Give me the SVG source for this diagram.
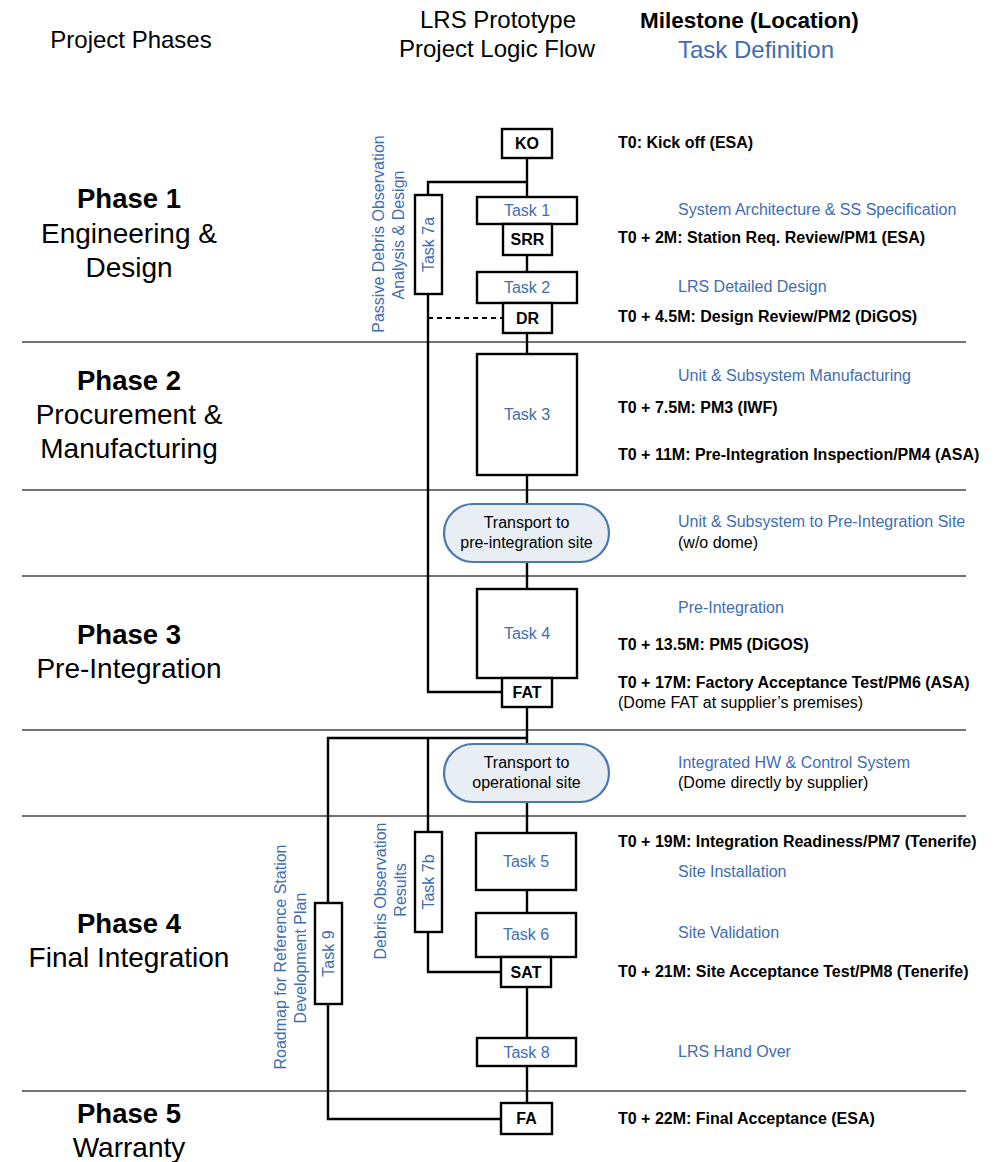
<svg xmlns="http://www.w3.org/2000/svg" width="1005" height="1162" viewBox="0 0 1005 1162">
<style>
  text { font-family: "Liberation Sans", Arial, sans-serif; }
  .hdr { font-size: 24px; fill: #000; }
  .hdrb { font-size: 22.5px; font-weight: bold; fill: #000; }
  .hdrblue { font-size: 24px; fill: #3F6DB3; }
  .ph { font-size: 28px; fill: #000; text-anchor: middle; }
  .phb { font-size: 27.5px; font-weight: bold; fill: #000; text-anchor: middle; }
  .ms { font-size: 16px; font-weight: bold; fill: #000; }
  .td { font-size: 16px; fill: #3F6DB3; }
  .note { font-size: 16px; fill: #000; }
  .box { fill: #fff; stroke: #000; stroke-width: 2.4; }
  .pill { fill: #E9EEF5; stroke: #4A78B2; stroke-width: 2.2; }
  .tl { font-size: 16px; fill: #3F6DB3; text-anchor: middle; dominant-baseline: central; }
  .ml { font-size: 16px; font-weight: bold; fill: #000; text-anchor: middle; dominant-baseline: central; }
  .pl { font-size: 16px; fill: #000; text-anchor: middle; }
  .vt { font-size: 16px; fill: #3F6DB3; text-anchor: middle; dominant-baseline: central; }
  .sep { stroke: #444; stroke-width: 1.4; }
  .con { fill: none; stroke: #000; stroke-width: 2.4; }
  .dash { fill: none; stroke: #000; stroke-width: 2; stroke-dasharray: 5 4; }
</style>

<!-- Headers -->
<g id="headers">
  <text class="hdr" x="131" y="48" text-anchor="middle">Project Phases</text>
  <text class="hdr" x="498" y="28" text-anchor="middle">LRS Prototype</text>
  <text class="hdr" x="497" y="57" text-anchor="middle">Project Logic Flow</text>
  <text class="hdrb" x="640" y="28">Milestone (Location)</text>
  <text class="hdrblue" x="756" y="58" text-anchor="middle">Task Definition</text>
</g>

<!-- Phase separators -->
<g id="separators">
  <line class="sep" x1="22" y1="342" x2="966" y2="342"/>
  <line class="sep" x1="22" y1="490" x2="966" y2="490"/>
  <line class="sep" x1="22" y1="576" x2="966" y2="576"/>
  <line class="sep" x1="22" y1="730" x2="966" y2="730"/>
  <line class="sep" x1="22" y1="816" x2="966" y2="816"/>
  <line class="sep" x1="22" y1="1091" x2="966" y2="1091"/>
</g>

<!-- Phase labels -->
<g id="phases">
  <text class="phb" x="129" y="208">Phase 1</text>
  <text class="ph" x="129" y="243">Engineering &amp;</text>
  <text class="ph" x="129" y="277">Design</text>
  <text class="phb" x="129" y="390">Phase 2</text>
  <text class="ph" x="129" y="424">Procurement &amp;</text>
  <text class="ph" x="129" y="458">Manufacturing</text>
  <text class="phb" x="129" y="644">Phase 3</text>
  <text class="ph" x="129" y="678">Pre-Integration</text>
  <text class="phb" x="129" y="933">Phase 4</text>
  <text class="ph" x="129" y="967">Final Integration</text>
  <text class="phb" x="129" y="1123">Phase 5</text>
  <text class="ph" x="129" y="1157">Warranty</text>
</g>

<!-- Connectors -->
<g id="connectors">
  <line class="con" x1="527" y1="158" x2="527" y2="197"/>
  <polyline class="con" points="527,182 428,182 428,195"/>
  <line class="con" x1="527" y1="255" x2="527" y2="272"/>
  <line class="con" x1="527" y1="333" x2="527" y2="354"/>
  <line class="con" x1="527" y1="475" x2="527" y2="504"/>
  <line class="con" x1="527" y1="562" x2="527" y2="589"/>
  <polyline class="con" points="428,294 428,692 502,692"/>
  <line class="dash" x1="428" y1="318" x2="503" y2="318"/>
  <line class="con" x1="527" y1="707" x2="527" y2="744"/>
  <polyline class="con" points="527,738 328,738 328,903"/>
  <line class="con" x1="428" y1="738" x2="428" y2="832"/>
  <line class="con" x1="527" y1="802" x2="527" y2="833"/>
  <line class="con" x1="527" y1="890" x2="527" y2="913"/>
  <line class="con" x1="527" y1="987" x2="527" y2="1038"/>
  <line class="con" x1="527" y1="1066" x2="527" y2="1103"/>
  <polyline class="con" points="428,932 428,972 501,972"/>
  <polyline class="con" points="328,1004 328,1119 501,1119"/>
</g>

<!-- Nodes -->
<g id="node-KO"><rect class="box" x="502" y="129" width="50" height="29"/><text class="ml" x="527" y="143.5">KO</text></g>
<g id="node-task1"><rect class="box" x="477" y="197" width="100" height="27"/><text class="tl" x="527" y="210.5">Task 1</text></g>
<g id="node-SRR"><rect class="box" x="503" y="224" width="49" height="31"/><text class="ml" x="527.5" y="239.5">SRR</text></g>
<g id="node-task2"><rect class="box" x="477" y="272" width="100" height="31"/><text class="tl" x="527" y="287.5">Task 2</text></g>
<g id="node-DR"><rect class="box" x="503" y="303" width="49" height="30"/><text class="ml" x="527.5" y="318">DR</text></g>
<g id="node-task3"><rect class="box" x="477" y="354" width="100" height="121"/><text class="tl" x="527" y="414">Task 3</text></g>
<g id="node-transport1"><rect class="pill" x="444" y="504" width="165" height="58" rx="29" ry="29"/><text class="pl" x="526.5" y="528">Transport to</text><text class="pl" x="526.5" y="548">pre-integration site</text></g>
<g id="node-task4"><rect class="box" x="477" y="589" width="100" height="89"/><text class="tl" x="527" y="633">Task 4</text></g>
<g id="node-FAT"><rect class="box" x="502" y="678" width="50" height="29"/><text class="ml" x="527" y="692.5">FAT</text></g>
<g id="node-transport2"><rect class="pill" x="444" y="744" width="165" height="58" rx="29" ry="29"/><text class="pl" x="526.5" y="768">Transport to</text><text class="pl" x="526.5" y="788">operational site</text></g>
<g id="node-task5"><rect class="box" x="476" y="833" width="100" height="57"/><text class="tl" x="526" y="861.5">Task 5</text></g>
<g id="node-task6"><rect class="box" x="476" y="913" width="100" height="44"/><text class="tl" x="526" y="934.5">Task 6</text></g>
<g id="node-SAT"><rect class="box" x="501" y="957" width="50" height="30"/><text class="ml" x="526" y="972">SAT</text></g>
<g id="node-task8"><rect class="box" x="477" y="1038" width="99" height="28"/><text class="tl" x="526.5" y="1052">Task 8</text></g>
<g id="node-FA"><rect class="box" x="501" y="1103" width="51" height="31"/><text class="ml" x="526.5" y="1118.5">FA</text></g>

<g id="node-task7a"><rect class="box" x="415" y="195" width="27" height="99"/><text class="vt" transform="translate(428.5,244.5) rotate(-90)">Task 7a</text></g>
<g id="node-task7b"><rect class="box" x="415" y="832" width="27" height="100"/><text class="vt" transform="translate(428.5,882) rotate(-90)">Task 7b</text></g>
<g id="node-task9"><rect class="box" x="315" y="903" width="27" height="101"/><text class="vt" transform="translate(328.5,953.5) rotate(-90)">Task 9</text></g>

<!-- Vertical side labels -->
<g id="side-labels">
  <text class="vt" transform="translate(378,234) rotate(-90)">Passive Debris Observation</text>
  <text class="vt" transform="translate(398,235) rotate(-90)">Analysis &amp; Design</text>
  <text class="vt" transform="translate(380,891) rotate(-90)">Debris Observation</text>
  <text class="vt" transform="translate(400,890) rotate(-90)">Results</text>
  <text class="vt" transform="translate(280,957) rotate(-90)">Roadmap for Reference Station</text>
  <text class="vt" transform="translate(300,958) rotate(-90)">Development Plan</text>
</g>

<!-- Milestones and task definitions -->
<g id="milestones">
  <text class="ms" x="618" y="148">T0: Kick off (ESA)</text>
  <text class="td" x="678" y="215">System Architecture &amp; SS Specification</text>
  <text class="ms" x="618" y="243">T0 + 2M: Station Req. Review/PM1 (ESA)</text>
  <text class="td" x="678" y="292">LRS Detailed Design</text>
  <text class="ms" x="618" y="322">T0 + 4.5M: Design Review/PM2 (DiGOS)</text>
  <text class="td" x="678" y="381">Unit &amp; Subsystem Manufacturing</text>
  <text class="ms" x="618" y="413">T0 + 7.5M: PM3 (IWF)</text>
  <text class="ms" x="618" y="460">T0 + 11M: Pre-Integration Inspection/PM4 (ASA)</text>
  <text class="td" x="678" y="527">Unit &amp; Subsystem to Pre-Integration Site</text>
  <text class="note" x="678" y="548">(w/o dome)</text>
  <text class="td" x="678" y="613">Pre-Integration</text>
  <text class="ms" x="618" y="650">T0 + 13.5M: PM5 (DiGOS)</text>
  <text class="ms" x="618" y="688">T0 + 17M: Factory Acceptance Test/PM6 (ASA)</text>
  <text class="note" x="618" y="708">(Dome FAT at supplier’s premises)</text>
  <text class="td" x="678" y="768">Integrated HW &amp; Control System</text>
  <text class="note" x="678" y="788">(Dome directly by supplier)</text>
  <text class="ms" x="618" y="847">T0 + 19M: Integration Readiness/PM7 (Tenerife)</text>
  <text class="td" x="678" y="877">Site Installation</text>
  <text class="td" x="678" y="938">Site Validation</text>
  <text class="ms" x="618" y="977">T0 + 21M: Site Acceptance Test/PM8 (Tenerife)</text>
  <text class="td" x="678" y="1057">LRS Hand Over</text>
  <text class="ms" x="618" y="1124">T0 + 22M: Final Acceptance (ESA)</text>
</g>
</svg>
